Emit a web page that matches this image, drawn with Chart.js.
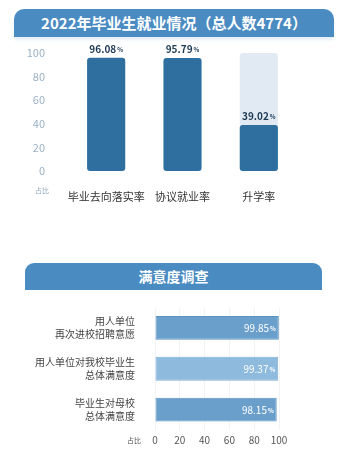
<!DOCTYPE html>
<html>
<head>
<meta charset="utf-8">
<script src="https://cdn.jsdelivr.net/npm/chart.js@4.4.1/dist/chart.umd.min.js"></script>
<style>
  body { margin: 0; background: #fff; font-family: "Noto Sans CJK SC", "Noto Sans", sans-serif; }
  #wrap { position: relative; width: 357px; height: 456px; overflow: hidden; }
  .head { position: absolute; background: #4a8bc2; color: #fff; font-weight: bold; text-align: center; }
  #head1 { left: 14px; top: 9px; width: 320px; height: 28px; line-height: 28px; font-size: 15px; border-radius: 10px 10px 0 0; box-shadow: 0 3px 3px #e6f0f8; }
  #head2 { left: 25px; top: 263px; width: 297px; height: 27px; line-height: 27px; font-size: 14px; border-radius: 9px 9px 0 0; }
  #c1 { position: absolute; left: 0; top: 40px; }
  #c2 { position: absolute; left: 0; top: 295px; }
</style>
</head>
<body>
<div id="wrap">
  <div class="head" id="head1">2022年毕业生就业情况（总人数4774）</div>
  <canvas id="c1" width="357" height="165"></canvas>
  <div class="head" id="head2">满意度调查</div>
  <canvas id="c2" width="357" height="161"></canvas>
</div>
<script>
// top chart data
const jobCategories = ['毕业去向落实率', '协议就业率', '升学率'];
const jobRates = [96.08, 95.79, 39.02];
const jobTrack = [null, null, 100];
const yTicks = [0, 20, 40, 60, 80, 100];

// bottom chart data
const surveyCategories = [
  ['用人单位', '再次进校招聘意愿'],
  ['用人单位对我校毕业生', '总体满意度'],
  ['毕业生对母校', '总体满意度']
];
const surveyRates = [99.85, 99.37, 98.15];
const xTicks = [0, 20, 40, 60, 80, 100];

const FONT = '"Noto Sans CJK SC", "Noto Sans", sans-serif';

function drawPct(ctx, x, y, value, bigFont, smallFont, color, align) {
  const num = value.toFixed(2);
  ctx.save();
  ctx.fillStyle = color;
  ctx.textBaseline = 'alphabetic';
  ctx.font = bigFont;
  const w1 = ctx.measureText(num).width;
  ctx.font = smallFont;
  const w2 = ctx.measureText('%').width;
  let start = align === 'right' ? x - w1 - w2 - 1 : x - (w1 + w2 + 1) / 2;
  ctx.textAlign = 'left';
  ctx.font = bigFont;
  ctx.fillText(num, start, y);
  ctx.font = smallFont;
  ctx.fillText('%', start + w1 + 1, y - 1);
  ctx.restore();
}

const topLabels = {
  id: 'topLabels',
  afterDatasetsDraw(chart) {
    const ctx = chart.ctx;
    const meta = chart.getDatasetMeta(1);
    meta.data.forEach((bar, i) => {
      drawPct(ctx, bar.x, bar.y - 5, jobRates[i], 'bold 10px ' + FONT, 'bold 6px ' + FONT, '#1d3a55', 'center');
    });
    ctx.save();
    ctx.fillStyle = '#8fa6bb';
    ctx.font = '7px ' + FONT;
    ctx.textAlign = 'center';
    ctx.textBaseline = 'middle';
    ctx.fillText('占比', 42, chart.chartArea.bottom + 19);
    ctx.restore();
  }
};

new Chart(document.getElementById('c1'), {
  type: 'bar',
  data: {
    labels: jobCategories,
    datasets: [
      { data: jobTrack, backgroundColor: '#e1eaf3', grouped: false, order: 2, borderRadius: 3, borderSkipped: false },
      { data: jobRates, backgroundColor: '#2f6f9f', grouped: false, order: 1, borderRadius: 3, borderSkipped: false }
    ]
  },
  options: {
    responsive: false,
    animation: false,
    events: [],
    barPercentage: 0.5,
    categoryPercentage: 1,
    layout: { padding: { top: 13, right: 60, left: 0, bottom: 0 } },
    plugins: { legend: { display: false }, tooltip: { enabled: false } },
    scales: {
      x: {
        grid: { display: false },
        border: { display: false },
        ticks: { color: '#333', font: { family: FONT, size: 11 }, padding: 11, maxRotation: 0, minRotation: 0, autoSkip: false },
        afterFit(scale) { scale.height = 34; }
      },
      y: {
        min: 0, max: 100,
        afterBuildTicks(scale) { scale.ticks = yTicks.map(v => ({ value: v })); },
        grid: { display: false },
        border: { display: false },
        ticks: { color: '#9ab0c6', font: { family: FONT, size: 11 }, padding: 15 },
        afterFit(scale) { scale.width = 68; scale.paddingTop = 0; scale.paddingBottom = 0; }
      }
    }
  },
  plugins: [topLabels]
});

const barLabels = {
  id: 'barLabels',
  afterDatasetsDraw(chart) {
    const ctx = chart.ctx;
    const meta = chart.getDatasetMeta(0);
    meta.data.forEach((bar, i) => {
      drawPct(ctx, bar.x - 3, bar.y + 4, surveyRates[i], '10px ' + FONT, 'bold 6px ' + FONT, '#ffffff', 'right');
    });
    ctx.save();
    ctx.fillStyle = '#555';
    ctx.font = '7px ' + FONT;
    ctx.textAlign = 'center';
    ctx.textBaseline = 'middle';
    ctx.fillText('占比', 134, chart.chartArea.bottom + 10);
    ctx.restore();
  }
};

new Chart(document.getElementById('c2'), {
  type: 'bar',
  data: {
    labels: surveyCategories,
    datasets: [
      { data: surveyRates, backgroundColor: ['#6a9fcb', '#8dbadd', '#6a9fcb'], borderColor: ['#5b93c2', '#7eaed5', '#5b93c2'], borderWidth: 1, borderSkipped: false }
    ]
  },
  options: {
    indexAxis: 'y',
    responsive: false,
    animation: false,
    events: [],
    barPercentage: 0.585,
    categoryPercentage: 1,
    layout: { padding: { top: 12.5, right: 78, left: 0, bottom: 0 } },
    plugins: { legend: { display: false }, tooltip: { enabled: false } },
    scales: {
      x: {
        min: 0, max: 100,
        afterBuildTicks(scale) { scale.ticks = xTicks.map(v => ({ value: v })); },
        grid: { color: '#f1f4f7', drawTicks: false },
        border: { display: false },
        ticks: { color: '#555', font: { family: FONT, size: 10 }, padding: 4 },
        afterFit(scale) { scale.height = 26; }
      },
      y: {
        grid: { display: false },
        border: { display: false },
        ticks: { color: '#444', font: { family: FONT, size: 10, lineHeight: 1.25 }, padding: 12 },
        afterFit(scale) { scale.width = 155; scale.paddingTop = 0; scale.paddingBottom = 0; }
      }
    }
  },
  plugins: [barLabels]
});
</script>
</body>
</html>
